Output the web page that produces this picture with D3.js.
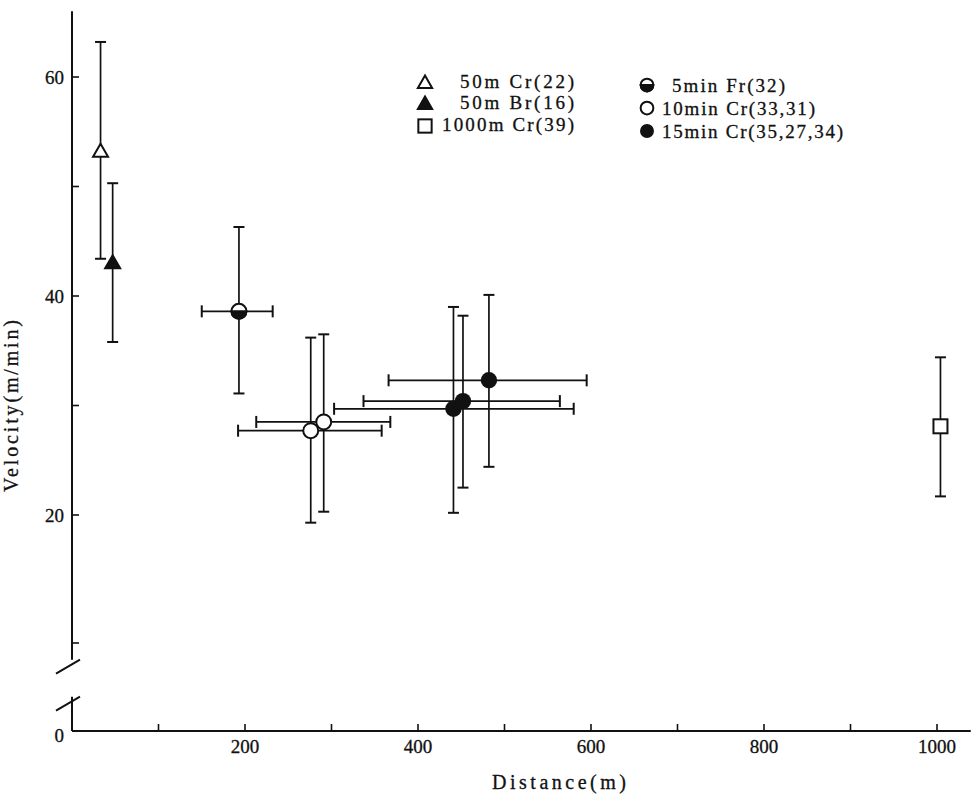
<!DOCTYPE html>
<html>
<head>
<meta charset="utf-8">
<script src="https://cdn.jsdelivr.net/npm/d3@7"></script>
<style>
  html, body { margin: 0; padding: 0; background: #fff; }
  svg { display: block; }
  text { font-family: "Liberation Serif", "DejaVu Serif", serif; fill: #111; stroke: #111; stroke-width: 0.3; }
</style>
</head>
<body>
<svg id="chart" width="971" height="794"></svg>
<script>
// ---------------- data ----------------
const groups    = ["50m Cr", "50m Br", "5min Fr", "10min Cr", "10min Cr", "15min Cr", "15min Cr", "15min Cr", "1000m Cr"];
const distance  = [33, 47, 193, 276, 291, 441, 452, 482, 1004];
const velocity  = [53.2, 43.0, 38.6, 27.7, 28.5, 29.7, 30.4, 32.3, 28.1];
const velLow    = [43.4, 35.8, 31.1, 19.4, 20.3, 20.2, 22.5, 24.4, 21.7];
const velHigh   = [63.2, 50.3, 46.3, 36.2, 36.5, 39.0, 38.2, 40.1, 34.4];
const distLow   = [null, null, 150, 192, 213, 303, 337, 366, null];
const distHigh  = [null, null, 232, 358, 368, 580, 564, 595, null];

const legendLeft  = ["50m Cr(22)", "50m Br(16)", "1000m Cr(39)"];
const legendLeftKeys  = ["50m Cr", "50m Br", "1000m Cr"];
const legendRight = ["5min Fr(32)", "10min Cr(33,31)", "15min Cr(35,27,34)"];
const legendRightKeys = ["5min Fr", "10min Cr", "15min Cr"];

const xTicks = [100, 200, 300, 400, 500, 600, 700, 800, 900, 1000];
const xTickLabels = [200, 400, 600, 800, 1000];
const yTicks = [10, 20, 30, 40, 50, 60];
const yTickLabels = [20, 40, 60];
const yMax = 66;
const yBreakUpper = 8.1;   // upper axis segment ends here
const yBreakLower = 3.9;   // lower axis segment starts here
const xMax = 1039;

// ---------------- scales ----------------
const svg = d3.select("#chart");
const x = d3.scaleLinear().domain([0, 1000]).range([72, 937]);
// broken axis: piecewise scale (0 below the break)
const y = d3.scaleLinear().domain([0, 10, 20, 60]).range([731, 643, 515, 77]);

const ax = x(0);
const g = svg.append("g");

// ---------------- axes ----------------
g.append("line").attr("x1", ax).attr("x2", x(xMax))
  .attr("y1", y(0)).attr("y2", y(0))
  .attr("stroke", "#111").attr("stroke-width", 2);
g.selectAll(".xt").data(xTicks).enter().append("line")
  .attr("x1", d => x(d)).attr("x2", d => x(d))
  .attr("y1", y(0)).attr("y2", y(0) - 7)
  .attr("stroke", "#111").attr("stroke-width", 1.6);
g.selectAll(".xl").data(xTickLabels).enter().append("text")
  .attr("x", d => x(d)).attr("y", y(0) + 22)
  .attr("text-anchor", "middle").attr("font-size", 19)
  .text(d => d);

g.append("line").attr("x1", ax).attr("x2", ax)
  .attr("y1", y(yMax)).attr("y2", y(yBreakUpper))
  .attr("stroke", "#111").attr("stroke-width", 2);
g.append("line").attr("x1", ax).attr("x2", ax)
  .attr("y1", y(yBreakLower)).attr("y2", y(0))
  .attr("stroke", "#111").attr("stroke-width", 2);
[yBreakUpper, yBreakLower].forEach(v => {
  g.append("line")
    .attr("x1", ax - 16).attr("y1", y(v) + 14)
    .attr("x2", ax + 8).attr("y2", y(v))
    .attr("stroke", "#111").attr("stroke-width", 2);
});
g.selectAll(".yt").data(yTicks).enter().append("line")
  .attr("x1", ax).attr("x2", ax + 7)
  .attr("y1", d => y(d)).attr("y2", d => y(d))
  .attr("stroke", "#111").attr("stroke-width", 1.6);
g.selectAll(".yl").data(yTickLabels.concat([0])).enter().append("text")
  .attr("x", ax - 8).attr("y", d => y(d) + 7 + (d === 0 ? 4 : 0))
  .attr("text-anchor", "end").attr("font-size", 19)
  .text(d => d);

g.append("text")
  .attr("x", 492).attr("y", 789)
  .attr("font-size", 20)
  .attr("textLength", 134).attr("lengthAdjust", "spacing")
  .text("Distance(m)");
g.append("text")
  .attr("transform", "translate(18," + 492 + ") rotate(-90)")
  .attr("font-size", 20)
  .attr("textLength", 172).attr("lengthAdjust", "spacing")
  .text("Velocity(m/min)");

// ---------------- marker drawing ----------------
function drawMarker(sel, key, cx, cy, s) {
  const k = s || 1;
  if (key === "50m Cr" || key === "50m Br") {
    const w = 15 * k, h = 13 * k;
    sel.append("path")
      .attr("d", `M${cx},${cy - h * 0.6} L${cx + w / 2},${cy + h * 0.4} L${cx - w / 2},${cy + h * 0.4} Z`)
      .attr("fill", key === "50m Br" ? "#111" : "#fff")
      .attr("stroke", "#111").attr("stroke-width", 2).attr("stroke-linejoin", "miter");
  } else if (key === "1000m Cr") {
    const w = 14 * k;
    sel.append("rect")
      .attr("x", cx - w / 2).attr("y", cy - w / 2).attr("width", w).attr("height", w)
      .attr("fill", "#fff").attr("stroke", "#111").attr("stroke-width", 2);
  } else if (key === "5min Fr") {
    const r = 7.5 * k;
    sel.append("circle").attr("cx", cx).attr("cy", cy).attr("r", r)
      .attr("fill", "#fff").attr("stroke", "#111").attr("stroke-width", 2);
    sel.append("path")
      .attr("d", `M${cx - r},${cy} A${r},${r} 0 0 0 ${cx + r},${cy} Z`)
      .attr("fill", "#111").attr("stroke", "#111").attr("stroke-width", 2);
  } else if (key === "10min Cr") {
    sel.append("circle").attr("cx", cx).attr("cy", cy).attr("r", 7.5 * k)
      .attr("fill", "#fff").attr("stroke", "#111").attr("stroke-width", 2);
  } else if (key === "15min Cr") {
    sel.append("circle").attr("cx", cx).attr("cy", cy).attr("r", 8.2 * k)
      .attr("fill", "#111");
  }
}

// ---------------- error bars ----------------
const cap = 5.5;
const pts = distance.map((d, i) => ({
  key: groups[i], d, v: velocity[i], vl: velLow[i], vh: velHigh[i], dl: distLow[i], dh: distHigh[i]
}));
const eb = g.append("g").attr("stroke", "#111").attr("stroke-width", 1.7).attr("fill", "none");
pts.forEach(p => {
  const cx = x(p.d), cy = y(p.v);
  eb.append("line").attr("x1", cx).attr("x2", cx).attr("y1", y(p.vh)).attr("y2", y(p.vl));
  eb.append("line").attr("x1", cx - cap).attr("x2", cx + cap).attr("y1", y(p.vh)).attr("y2", y(p.vh)).attr("stroke-width", 2);
  eb.append("line").attr("x1", cx - cap).attr("x2", cx + cap).attr("y1", y(p.vl)).attr("y2", y(p.vl)).attr("stroke-width", 2);
  if (p.dl !== null) {
    eb.append("line").attr("x1", x(p.dl)).attr("x2", x(p.dh)).attr("y1", cy).attr("y2", cy);
    eb.append("line").attr("x1", x(p.dl)).attr("x2", x(p.dl)).attr("y1", cy - cap - 0.5).attr("y2", cy + cap + 0.5).attr("stroke-width", 2);
    eb.append("line").attr("x1", x(p.dh)).attr("x2", x(p.dh)).attr("y1", cy - cap - 0.5).attr("y2", cy + cap + 0.5).attr("stroke-width", 2);
  }
});

// ---------------- markers ----------------
const mk = g.append("g");
pts.forEach(p => drawMarker(mk, p.key, x(p.d), y(p.v), 1));

// ---------------- legend ----------------
const lg = g.append("g");
const leftRowsY = [83, 104, 126];
const leftTextEnd = 574;
const leftLens = [114, 114, 132];
legendLeftKeys.forEach((k, i) => {
  drawMarker(lg, k, 425, leftRowsY[i], 0.95);
  lg.append("text")
    .attr("x", leftTextEnd - leftLens[i]).attr("y", leftRowsY[i] + 5)
    .attr("font-size", 19)
    .attr("textLength", leftLens[i]).attr("lengthAdjust", "spacing")
    .text(legendLeft[i]);
});
const rightRowsY = [85, 108, 131];
const rightStarts = [672, 662, 662];
const rightLens = [113, 153, 181];
legendRightKeys.forEach((k, i) => {
  drawMarker(lg, k, 647, rightRowsY[i], 0.85);
  lg.append("text")
    .attr("x", rightStarts[i]).attr("y", rightRowsY[i] + 7)
    .attr("font-size", 19)
    .attr("textLength", rightLens[i]).attr("lengthAdjust", "spacing")
    .text(legendRight[i]);
});
</script>
</body>
</html>
